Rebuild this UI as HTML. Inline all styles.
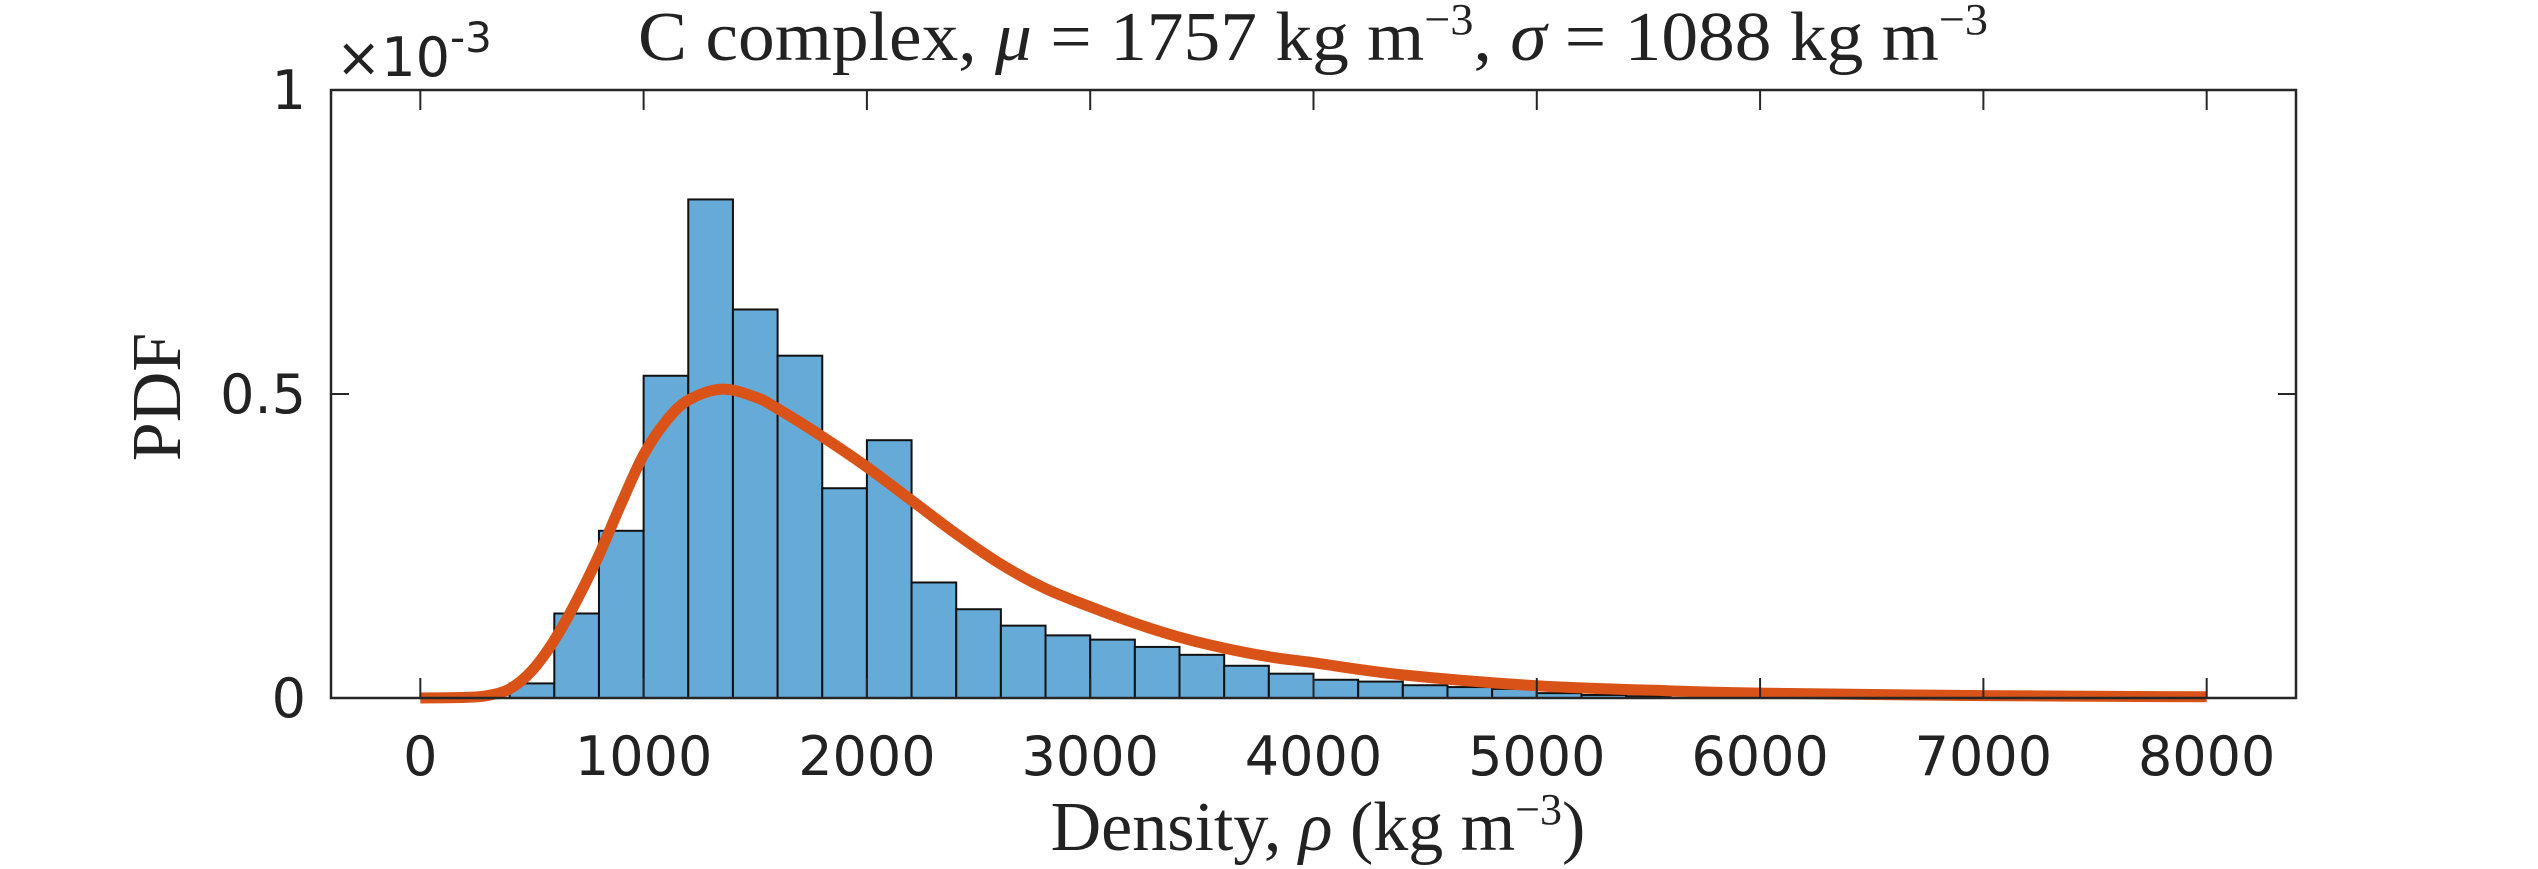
<!DOCTYPE html>
<html><head><meta charset="utf-8"><style>
html,body{margin:0;padding:0;background:#fff;}
svg{display:block;}
</style></head><body>
<svg id="chart" width="2538" height="869" viewBox="0 0 2538 869" xmlns="http://www.w3.org/2000/svg">
<rect width="2538" height="869" fill="#fff"/>
<g id="bars"></g>
<g id="curve"></g>
<g id="axes"></g>
<text x="1313" y="60" text-anchor="middle" font-family="Liberation Serif, serif" font-size="70" fill="#222" textLength="1350" lengthAdjust="spacingAndGlyphs">C complex, <tspan font-style="italic">μ</tspan> = 1757 kg m<tspan dy="-26" font-size="44">−3</tspan><tspan dy="26">, </tspan><tspan font-style="italic">σ</tspan> = 1088 kg m<tspan dy="-26" font-size="44">−3</tspan></text>
<text x="1318" y="850" text-anchor="middle" font-family="Liberation Serif, serif" font-size="70" fill="#222">Density, <tspan font-style="italic">ρ</tspan> (kg m<tspan dy="-26" font-size="44">−3</tspan><tspan dy="26">)</tspan></text>
<text transform="translate(180,397) rotate(-90)" text-anchor="middle" font-family="Liberation Serif, serif" font-size="70" fill="#222">PDF</text>
<text x="336" y="76" font-family="DejaVu Sans, sans-serif" font-size="54" fill="#222">×10<tspan dy="-24" font-size="42">-3</tspan></text>
</svg>
<script>
const binEdgesStart = [400,600,800,1000,1200,1400,1600,1800,2000,2200,2400,2600,2800,3000,3200,3400,3600,3800,4000,4200,4400,4600,4800,5000,5200,5400];
const binValues = [0.024,0.139,0.275,0.530,0.820,0.639,0.563,0.345,0.424,0.190,0.146,0.119,0.103,0.096,0.084,0.071,0.053,0.040,0.030,0.027,0.021,0.018,0.015,0.008,0.005,0.003];
const binWidth = 200;
const curveX = [0,200,300,400,500,600,700,800,900,1000,1100,1200,1350,1500,1600,1800,2000,2200,2400,2600,2800,3000,3200,3400,3600,3800,4000,4400,5000,5500,6000,7000,8000];
const curveY = [0,0.001,0.004,0.015,0.045,0.095,0.16,0.235,0.32,0.40,0.455,0.49,0.508,0.495,0.476,0.43,0.38,0.325,0.27,0.22,0.18,0.15,0.123,0.10,0.082,0.068,0.058,0.038,0.020,0.013,0.008,0.004,0.002];
const xTicks = [0,1000,2000,3000,4000,5000,6000,7000,8000];
const yTicks = [0,0.5,1];
const yTickLabels = ["0","0.5","1"];

const L=331,R=2296,T=90,B=698, XMIN=-400, XMAX=8400, YMAX=1;
const sx=v=>L+(v-XMIN)/(XMAX-XMIN)*(R-L);
const sy=v=>B-v/YMAX*(B-T);
const NS="http://www.w3.org/2000/svg";
function mk(tag,attrs,parent){const e=document.createElementNS(NS,tag);for(const k in attrs)e.setAttribute(k,attrs[k]);parent.appendChild(e);return e;}

const bars=document.getElementById('bars');
binEdgesStart.forEach((x0,i)=>{
  const x=sx(x0), w=sx(x0+binWidth)-x, y=sy(binValues[i]);
  const r=mk('rect',{x:x,y:y,width:w,height:B-y,fill:'#66aad8',stroke:'#111','stroke-width':2},bars);
  
  
});

const cg=document.getElementById('curve');
const pts=curveX.map((x,i)=>[sx(x),sy(curveY[i])]);
let d='M'+pts[0][0].toFixed(1)+','+pts[0][1].toFixed(1);
for(let i=0;i<pts.length-1;i++){
  const p0=pts[Math.max(0,i-1)],p1=pts[i],p2=pts[i+1],p3=pts[Math.min(pts.length-1,i+2)];
  const c1=[p1[0]+(p2[0]-p0[0])/6,p1[1]+(p2[1]-p0[1])/6];
  const c2=[p2[0]-(p3[0]-p1[0])/6,p2[1]-(p3[1]-p1[1])/6];
  d+=' C'+c1[0].toFixed(1)+','+c1[1].toFixed(1)+' '+c2[0].toFixed(1)+','+c2[1].toFixed(1)+' '+p2[0].toFixed(1)+','+p2[1].toFixed(1);
}
const p=mk('path',{d:d,fill:'none',stroke:'#d95319','stroke-width':11,'stroke-linejoin':'round'},cg);



const ax=document.getElementById('axes');
const box=mk('rect',{x:L,y:T,width:R-L,height:B-T,fill:'none',stroke:'#262626','stroke-width':2.5},ax);


xTicks.forEach(v=>{
  const x=sx(v);
  mk('line',{x1:x,y1:B,x2:x,y2:B-20,stroke:'#262626','stroke-width':2},ax);
  mk('line',{x1:x,y1:T,x2:x,y2:T+20,stroke:'#262626','stroke-width':2},ax);
  const t=mk('text',{x:x,y:775,'text-anchor':'middle','font-family':'DejaVu Sans, sans-serif','font-size':54,fill:'#222'},ax);
  t.textContent=v;
  
  
});
yTicks.forEach((v,i)=>{
  const y=sy(v);
  mk('line',{x1:L,y1:y,x2:L+18,y2:y,stroke:'#262626','stroke-width':2},ax);
  mk('line',{x1:R,y1:y,x2:R-18,y2:y,stroke:'#262626','stroke-width':2},ax);
  const t=mk('text',{x:306,y:y+19,'text-anchor':'end','font-family':'DejaVu Sans, sans-serif','font-size':54,fill:'#222'},ax);
  t.textContent=yTickLabels[i];
  
  
});
</script>
</body></html>
